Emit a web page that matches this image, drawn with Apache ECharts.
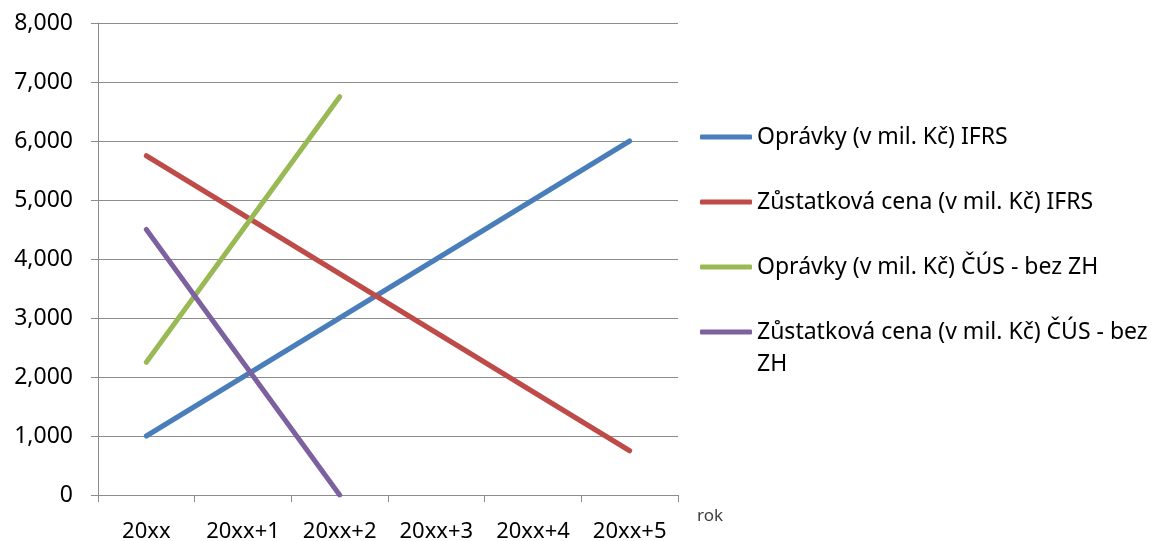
<!DOCTYPE html>
<html>
<head>
<meta charset="utf-8">
<script src="https://cdn.jsdelivr.net/npm/echarts@6/dist/echarts.min.js"></script>
<style>
  html, body { margin: 0; padding: 0; background: #fff; }
  #chart { width: 1157px; height: 541px; }
</style>
</head>
<body>
<div id="chart"></div>
<script>
// Years on the category axis
const years = ['20xx', '20xx+1', '20xx+2', '20xx+3', '20xx+4', '20xx+5'];

// Series values (mil. Kč)
const opravkyIFRS = [1000, 2000, 3000, 4000, 5000, 6000];
const zustatkovaIFRS = [5750, 4750, 3750, 2750, 1750, 750];
const opravkyCUS = [2250, 4500, 6750, null, null, null];
const zustatkovaCUS = [4500, 2250, 0, null, null, null];

const seriesNames = [
  'Oprávky (v mil. Kč) IFRS',
  'Zůstatková cena (v mil. Kč) IFRS',
  'Oprávky (v mil. Kč) ČÚS - bez ZH',
  'Zůstatková cena (v mil. Kč) ČÚS - bez ZH'
];
const seriesValues = [opravkyIFRS, zustatkovaIFRS, opravkyCUS, zustatkovaCUS];
const colors = ['#4A7EBB', '#BE4B48', '#98B954', '#7D60A0'];

const FONT = '"Noto Sans", sans-serif';
const gridColor = '#8c8c8c';

const legendText = {
  fontFamily: FONT,
  fontSize: 23,
  color: '#000',
  lineHeight: 32
};

const legendBase = {
  orient: 'vertical',
  left: 700,
  padding: 0,
  itemWidth: 52,
  itemHeight: 5,
  itemGap: 33,
  icon: 'roundRect'
};

const chart = echarts.init(document.getElementById('chart'), null, { renderer: 'canvas' });

chart.setOption({
  animation: false,
  backgroundColor: '#ffffff',
  grid: {
    left: 98, right: 479, top: 23, bottom: 46,
    containLabel: false,
    outerBoundsMode: 'none'
  },
  legend: [
    Object.assign({}, legendBase, {
      top: 121,
      textStyle: legendText,
      data: seriesNames.slice(0, 3)
    }),
    // long entry wraps onto a second line; an empty leading line keeps
    // the swatch level with the first line of text
    Object.assign({}, legendBase, {
      top: 284,
      textStyle: legendText,
      formatter: n => '\n' + n.replace(/ (\S+)$/, '\n$1'),
      data: seriesNames.slice(3)
    })
  ],
  xAxis: {
    type: 'category',
    data: years,
    boundaryGap: true,
    name: 'rok',
    nameLocation: 'end',
    nameGap: 19,
    nameTextStyle: {
      fontFamily: FONT,
      fontSize: 17,
      color: '#404040',
      verticalAlign: 'top',
      padding: [13, 0, 0, 0]
    },
    axisLine: { show: true, lineStyle: { color: gridColor, width: 1 } },
    axisTick: { show: true, length: 7, lineStyle: { color: gridColor } },
    axisLabel: { fontFamily: FONT, fontSize: 22, color: '#000', margin: 26 },
    splitLine: { show: false }
  },
  yAxis: {
    type: 'value',
    min: 0,
    max: 8000,
    interval: 1000,
    axisLine: { show: true, lineStyle: { color: gridColor, width: 1 } },
    axisTick: { show: true, length: 7, lineStyle: { color: gridColor } },
    axisLabel: {
      fontFamily: FONT,
      fontSize: 23,
      color: '#000',
      margin: 25,
      formatter: v => v.toLocaleString('en-US')
    },
    splitLine: { show: true, lineStyle: { color: gridColor, width: 1 } }
  },
  series: seriesNames.map((name, i) => ({
    name,
    type: 'line',
    data: seriesValues[i],
    showSymbol: false,
    symbol: 'none',
    connectNulls: false,
    color: colors[i],
    lineStyle: { color: colors[i], width: 5, cap: 'round', join: 'round' }
  }))
});
</script>
</body>
</html>
